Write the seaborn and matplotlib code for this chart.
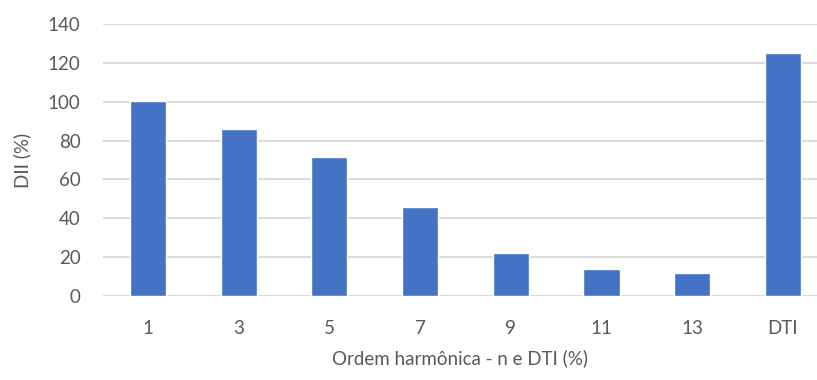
import matplotlib
matplotlib.use("Agg")
import matplotlib.pyplot as plt
import seaborn as sns
import pandas as pd

# Harmonic order and individual distortion (% of fundamental), plus total distortion
categorias = ["1", "3", "5", "7", "9", "11", "13", "DTI"]
valores = [100.4, 85.8, 71.6, 45.8, 22.2, 13.8, 11.7, 125.0]
ticks_y = [0, 20, 40, 60, 80, 100, 120, 140]

df = pd.DataFrame({"ordem": categorias, "dii": valores})

sns.set_theme(style="white")
plt.rcParams["font.family"] = ["Lato", "DejaVu Sans"]

cinza_texto = "#595959"
cinza_grade = "#D9D9D9"
azul = "#4472C4"

fig = plt.figure(figsize=(8.17, 3.80), dpi=100)
left = 102.6 / 817
bottom = (380 - 296) / 380
top = 1 - 24 / 380
ax = fig.add_axes([left, bottom, 1.0 - left, top - bottom])

sns.barplot(data=df, x="ordem", y="dii", order=categorias, color=azul,
            width=0.4, saturation=1, ax=ax, zorder=3)

ax.set_ylim(0, 140)
ax.set_yticks(ticks_y)
ax.set_xlim(-0.5, -0.5 + (817 - 102.6) / 90.7)

ax.yaxis.grid(True, color=cinza_grade, linewidth=1.4, zorder=0)
ax.xaxis.grid(False)
for s in ax.spines.values():
    s.set_visible(False)
ax.axhline(0, color=cinza_grade, linewidth=1.4, zorder=1)

ax.tick_params(axis="both", length=0, labelsize=13.5, colors=cinza_texto)
ax.tick_params(axis="x", pad=17)
ax.tick_params(axis="y", pad=16)

ax.set_xlabel("Ordem harmônica - n e DTI (%)", fontsize=13.5, color=cinza_texto, labelpad=9)
ax.set_ylabel("DII (%)", fontsize=13.5, color=cinza_texto, labelpad=12)

fig.savefig("out.png", dpi=100, facecolor="white")
